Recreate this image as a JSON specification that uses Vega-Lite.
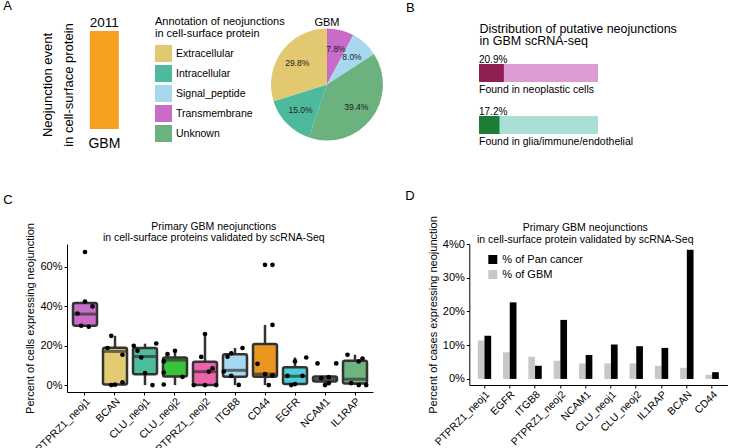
{
"$schema":"https://vega.github.io/schema/vega-lite/v6.json",
"padding":{"left":3,"top":0,"right":0,"bottom":0},
"config":{
 "font":"Liberation Sans",
 "view":{"stroke":null},
 "axis":{"domainColor":"#000","tickColor":"#000","labelColor":"#000","titleColor":"#000","grid":false,"titleFontWeight":"normal","labelFont":"Liberation Sans","titleFont":"Liberation Sans"},
 "legend":{"labelFont":"Liberation Sans","titleFont":"Liberation Sans","labelColor":"#000","titleColor":"#000","titleFontWeight":"normal"},
 "title":{"fontWeight":"normal","color":"#000","font":"Liberation Sans"},
 "text":{"font":"Liberation Sans"}
},
"datasets":{
 "boxes":[
  {"gene":"PTPRZ1_neoj1","lower":29.6,"q1":30.1,"median":36.0,"q3":41.6,"upper":42.4},
  {"gene":"BCAN","lower":0,"q1":0.3,"median":17.1,"q3":19.0,"upper":25.0},
  {"gene":"CLU_neoj1","lower":0,"q1":5.5,"median":14.5,"q3":18.8,"upper":21.0},
  {"gene":"CLU_neoj2","lower":0,"q1":4.4,"median":12.7,"q3":14.0,"upper":17.4},
  {"gene":"PTPRZ1_neoj2","lower":0,"q1":0,"median":6.8,"q3":11.8,"upper":25.9},
  {"gene":"ITGB8","lower":0,"q1":4.2,"median":7.5,"q3":15.7,"upper":18.8},
  {"gene":"CD44","lower":0,"q1":4.2,"median":5.6,"q3":20.8,"upper":30.5},
  {"gene":"EGFR","lower":0,"q1":0.5,"median":4.5,"q3":9.0,"upper":14.0},
  {"gene":"NCAM1","lower":0,"q1":1.8,"median":3.0,"q3":4.3,"upper":4.5},
  {"gene":"IL1RAP","lower":0,"q1":0.8,"median":3.0,"q3":12.3,"upper":15.4}
 ],
 "cells":[
  {"gene":"PTPRZ1_neoj1","sample":"4","pct":67.5},{"gene":"PTPRZ1_neoj1","sample":"4","pct":42.4},{"gene":"PTPRZ1_neoj1","sample":"6","pct":39.9},{"gene":"PTPRZ1_neoj1","sample":"2","pct":36.3},{"gene":"PTPRZ1_neoj1","sample":"3","pct":30.1},{"gene":"PTPRZ1_neoj1","sample":"5","pct":29.6},
  {"gene":"BCAN","sample":"3","pct":25.0},{"gene":"BCAN","sample":"2","pct":18.8},{"gene":"BCAN","sample":"6","pct":15.4},{"gene":"BCAN","sample":"6","pct":1.4},{"gene":"BCAN","sample":"4","pct":0.2},{"gene":"BCAN","sample":"3","pct":0.0},
  {"gene":"CLU_neoj1","sample":"7","pct":21.1},{"gene":"CLU_neoj1","sample":"1","pct":19.9},{"gene":"CLU_neoj1","sample":"2","pct":17.4},{"gene":"CLU_neoj1","sample":"3","pct":14.0},{"gene":"CLU_neoj1","sample":"4","pct":6.1},{"gene":"CLU_neoj1","sample":"6","pct":0.0},
  {"gene":"CLU_neoj2","sample":"4","pct":17.4},{"gene":"CLU_neoj2","sample":"2","pct":15.7},{"gene":"CLU_neoj2","sample":"1","pct":12.0},{"gene":"CLU_neoj2","sample":"1","pct":6.4},{"gene":"CLU_neoj2","sample":"6","pct":4.2},{"gene":"CLU_neoj2","sample":"1","pct":0.3},
  {"gene":"PTPRZ1_neoj2","sample":"4","pct":25.9},{"gene":"PTPRZ1_neoj2","sample":"3","pct":14.3},{"gene":"PTPRZ1_neoj2","sample":"6","pct":8.5},{"gene":"PTPRZ1_neoj2","sample":"5","pct":6.8},{"gene":"PTPRZ1_neoj2","sample":"1","pct":0.0},{"gene":"PTPRZ1_neoj2","sample":"4","pct":0.0},{"gene":"PTPRZ1_neoj2","sample":"7","pct":0.0},
  {"gene":"ITGB8","sample":"6","pct":18.8},{"gene":"ITGB8","sample":"3","pct":16.1},{"gene":"ITGB8","sample":"2","pct":14.4},{"gene":"ITGB8","sample":"1","pct":6.9},{"gene":"ITGB8","sample":"3","pct":4.7},{"gene":"ITGB8","sample":"5","pct":0.1},
  {"gene":"CD44","sample":"4","pct":61.0},{"gene":"CD44","sample":"6","pct":61.0},{"gene":"CD44","sample":"6","pct":30.5},{"gene":"CD44","sample":"2","pct":10.8},{"gene":"CD44","sample":"4","pct":5.6},{"gene":"CD44","sample":"6","pct":5.0},{"gene":"CD44","sample":"5","pct":0.0},
  {"gene":"EGFR","sample":"7","pct":14.0},{"gene":"EGFR","sample":"4","pct":12.0},{"gene":"EGFR","sample":"2","pct":4.7},{"gene":"EGFR","sample":"6","pct":4.7},{"gene":"EGFR","sample":"4","pct":0.5},{"gene":"EGFR","sample":"3","pct":0.0},
  {"gene":"NCAM1","sample":"2","pct":11.0},{"gene":"NCAM1","sample":"7","pct":11.0},{"gene":"NCAM1","sample":"3","pct":3.5},{"gene":"NCAM1","sample":"5","pct":4.0},{"gene":"NCAM1","sample":"5","pct":1.0},{"gene":"NCAM1","sample":"4","pct":0.0},
  {"gene":"IL1RAP","sample":"2","pct":15.4},{"gene":"IL1RAP","sample":"6","pct":13.5},{"gene":"IL1RAP","sample":"5","pct":12.0},{"gene":"IL1RAP","sample":"3","pct":1.0},{"gene":"IL1RAP","sample":"5","pct":0.0},{"gene":"IL1RAP","sample":"7","pct":0.0}
 ],
 "cases":[
  {"gene":"PTPRZ1_neoj1","series":"% of GBM","pct":11.4},{"gene":"PTPRZ1_neoj1","series":"% of Pan cancer","pct":12.8},
  {"gene":"EGFR","series":"% of GBM","pct":7.9},{"gene":"EGFR","series":"% of Pan cancer","pct":22.7},
  {"gene":"ITGB8","series":"% of GBM","pct":6.6},{"gene":"ITGB8","series":"% of Pan cancer","pct":3.9},
  {"gene":"PTPRZ1_neoj2","series":"% of GBM","pct":5.4},{"gene":"PTPRZ1_neoj2","series":"% of Pan cancer","pct":17.5},
  {"gene":"NCAM1","series":"% of GBM","pct":4.6},{"gene":"NCAM1","series":"% of Pan cancer","pct":7.1},
  {"gene":"CLU_neoj1","series":"% of GBM","pct":4.6},{"gene":"CLU_neoj1","series":"% of Pan cancer","pct":10.2},
  {"gene":"CLU_neoj2","series":"% of GBM","pct":4.6},{"gene":"CLU_neoj2","series":"% of Pan cancer","pct":9.7},
  {"gene":"IL1RAP","series":"% of GBM","pct":3.9},{"gene":"IL1RAP","series":"% of Pan cancer","pct":9.2},
  {"gene":"BCAN","series":"% of GBM","pct":3.3},{"gene":"BCAN","series":"% of Pan cancer","pct":38.3},
  {"gene":"CD44","series":"% of GBM","pct":1.2},{"gene":"CD44","series":"% of Pan cancer","pct":2.0}
 ]
},
"spacing":39,
"bounds":"full",
"align":"none",
"resolve":{"scale":{"color":"independent","fill":"independent"},"legend":{"color":"independent","fill":"independent"}},
"vconcat":[
 {
  "spacing":96,
  "bounds":"flush",
  "align":"none",
  "resolve":{"scale":{"color":"independent","fill":"independent"},"legend":{"color":"independent","fill":"independent"}},
  "hconcat":[
   {
    "title":{"text":"A","anchor":"start","frame":"group","fontSize":13,"baseline":"alphabetic","offset":0,"dx":-63.7,"dy":7.3},
    "width":107.3,"height":107,
    "data":{"values":[{"cancer":"GBM","events":2011}]},
    "encoding":{
     "x":{"field":"cancer","type":"nominal","scale":{"paddingInner":0,"paddingOuter":1.35,"align":0.272},"axis":{"title":null,"labelAngle":0,"ticks":false,"tickSize":0,"domain":false,"labelFontSize":14,"labelPadding":-2}},
     "y":{"field":"events","type":"quantitative","scale":{"domain":[-184.7,2011],"nice":false,"zero":false},"axis":{"title":["Neojunction event","in cell-surface protein"],"labels":false,"ticks":false,"domain":false,"titleFontSize":13,"titleLineHeight":21,"titlePadding":-8}}
    },
    "layer":[
     {"mark":{"type":"bar","color":"#F5A01E","size":29},"encoding":{"y2":{"datum":0}}},
     {"mark":{"type":"text","baseline":"alphabetic","dy":-4.3,"fontSize":13.5,"color":"#000"},"encoding":{"text":{"field":"events","type":"quantitative","format":"d"}}}
    ]
   },
   {
    "title":{"text":"GBM","frame":"group","fontSize":11,"offset":0,"dy":11.8},
    "width":112,"height":107,
    "data":{"values":[
     {"annotation":"Transmembrane","frac":0.078,"slice":1},
     {"annotation":"Signal_peptide","frac":0.080,"slice":2},
     {"annotation":"Unknown","frac":0.394,"slice":3},
     {"annotation":"Intracellular","frac":0.150,"slice":4},
     {"annotation":"Extracellular","frac":0.298,"slice":5}
    ]},
    "encoding":{
     "theta":{"field":"frac","type":"quantitative","stack":true},
     "order":{"field":"slice","type":"quantitative"}
    },
    "layer":[
     {"mark":{"type":"arc","outerRadius":56},
      "encoding":{"color":{"field":"annotation","type":"nominal",
        "scale":{"domain":["Extracellular","Intracellular","Signal_peptide","Transmembrane","Unknown"],"range":["#E2C871","#4DBA9E","#A8D8EF","#C96CC9","#6BB27F"]},
        "legend":{"orient":"none","legendX":-116,"legendY":-15,"title":["Annotation of neojunctions","in cell-surface protein"],"titleFontSize":11,"titleLineHeight":12,"titlePadding":6,"labelFontSize":10.5,"symbolType":"square","symbolSize":289,"symbolStrokeWidth":0,"symbolOpacity":1,"rowPadding":3,"labelOffset":4}}}},
     {"mark":{"type":"text","radius":37,"fontSize":8.5,"color":"#1a1a1a"},
      "encoding":{"detail":{"field":"annotation","type":"nominal"},"text":{"field":"frac","type":"quantitative","format":".1%"}}}
    ]
   },
   {
    "title":{"text":"B","anchor":"start","frame":"group","fontSize":13,"baseline":"alphabetic","offset":0,"dx":-73,"dy":3},
    "width":119,"height":107,
    "data":{"values":[{"group":"Found in neoplastic cells","frac":0.209},{"group":"Found in glia/immune/endothelial","frac":0.172}]},
    "encoding":{"y":{"field":"group","type":"nominal","sort":null,"scale":{"paddingInner":0.5,"paddingOuter":0.279,"align":1},"axis":null}},
    "layer":[
     {"mark":{"type":"bar","size":18},"encoding":{"x":{"datum":0,"type":"quantitative"},"x2":{"datum":1},"color":{"field":"group","type":"nominal","scale":{"domain":["Found in neoplastic cells","Found in glia/immune/endothelial"],"range":["#DC9BD5","#A9DFD5"]},"legend":null}}},
     {"mark":{"type":"bar","size":18},"encoding":{"x":{"field":"frac","type":"quantitative","scale":{"domain":[0,1],"nice":false},
        "axis":{"orient":"top","labels":false,"ticks":false,"domain":false,"grid":false,"title":["Distribution of putative neojunctions","in GBM scRNA-seq"],"titleFontSize":12.5,"titleLineHeight":12.5,"titleX":0,"titleY":1,"titleAlign":"left","titleBaseline":"alphabetic","titleAngle":0}},
       "fill":{"field":"group","type":"nominal","scale":{"domain":["Found in neoplastic cells","Found in glia/immune/endothelial"],"range":["#8E1F50","#1D7D36"]},"legend":null}}},
     {"mark":{"type":"text","align":"left","baseline":"alphabetic","dy":-10,"fontSize":10,"color":"#000"},"encoding":{"x":{"datum":0},"text":{"field":"frac","type":"quantitative","format":".1%"}}},
     {"mark":{"type":"text","align":"left","baseline":"alphabetic","dy":20,"fontSize":10.5,"color":"#000"},"encoding":{"x":{"datum":0},"text":{"field":"group","type":"nominal"}}}
    ]
   }
  ]
 },
 {
  "title":{"text":"D","anchor":"start","frame":"group","fontSize":13,"baseline":"alphabetic","offset":0,"dx":338.3,"dy":18.4},
  "spacing":96.3,
  "bounds":"flush",
  "align":"none",
  "resolve":{"scale":{"color":"independent","fill":"independent"},"legend":{"color":"independent","fill":"independent"}},
  "hconcat":[
   {
    "title":{"text":"C","anchor":"start","frame":"group","fontSize":13,"baseline":"alphabetic","offset":0,"dx":-63.7,"dy":-3.7},
    "width":306,"height":148,
    "layer":[
     {"data":{"name":"boxes"},"mark":{"type":"rule","color":"#333333","strokeWidth":2.5},
      "encoding":{
       "x":{"field":"gene","type":"nominal","sort":["PTPRZ1_neoj1","BCAN","CLU_neoj1","CLU_neoj2","PTPRZ1_neoj2","ITGB8","CD44","EGFR","NCAM1","IL1RAP"],"scale":{"paddingInner":0,"paddingOuter":0.1},"axis":{"title":null,"labelAngle":-45,"labelAlign":"right","labelBaseline":"top","labelFontSize":10.5,"tickSize":3,"labelPadding":1}},
       "y":{"field":"lower","type":"quantitative","scale":{"domain":[-3.5,71.55],"nice":false},"axis":{"title":"Percent of cells expressing neojunction","values":[0,20,40,60],"labelExpr":"datum.value + '%'","labelFontSize":11,"titleFontSize":11,"tickSize":3,"labelPadding":2,"titlePadding":4}},"y2":{"field":"upper"}}},
     {"data":{"name":"boxes"},"mark":{"type":"bar","size":24,"stroke":"#333333","strokeWidth":2.5,"cornerRadius":2},
      "encoding":{
       "x":{"field":"gene","type":"nominal","sort":["PTPRZ1_neoj1","BCAN","CLU_neoj1","CLU_neoj2","PTPRZ1_neoj2","ITGB8","CD44","EGFR","NCAM1","IL1RAP"],"axis":null},
       "y":{"field":"q1","type":"quantitative","axis":{"title":"Percent of cells expressing neojunction"}},"y2":{"field":"q3"},
       "color":{"field":"gene","type":"nominal","scale":{"domain":["PTPRZ1_neoj1","BCAN","CLU_neoj1","CLU_neoj2","PTPRZ1_neoj2","ITGB8","CD44","EGFR","NCAM1","IL1RAP"],"range":["#C86DC8","#E3CB72","#4DBB9E","#3BC23B","#EE62AA","#A7D8F0","#E8961E","#4CCFD6","#8C8C8C","#6DB47F"]},"legend":null}}},
     {"data":{"name":"boxes"},"mark":{"type":"tick","color":"#333333","thickness":3,"size":24},
      "encoding":{
       "x":{"field":"gene","type":"nominal","sort":["PTPRZ1_neoj1","BCAN","CLU_neoj1","CLU_neoj2","PTPRZ1_neoj2","ITGB8","CD44","EGFR","NCAM1","IL1RAP"],"axis":null},
       "y":{"field":"median","type":"quantitative","axis":{"title":"Percent of cells expressing neojunction"}}}},
     {"data":{"name":"cells"},"mark":{"type":"circle","size":22,"color":"#000","opacity":1},
      "encoding":{
       "x":{"field":"gene","type":"nominal","sort":["PTPRZ1_neoj1","BCAN","CLU_neoj1","CLU_neoj2","PTPRZ1_neoj2","ITGB8","CD44","EGFR","NCAM1","IL1RAP"],
        "axis":{"orient":"top","labels":false,"ticks":false,"domain":false,"title":["Primary GBM neojunctions","in cell-surface proteins validated by scRNA-Seq"],"titleFontSize":10.5,"titleLineHeight":11.7,"titleX":146.3,"titleY":-15,"titleAlign":"center","titleBaseline":"alphabetic","titleAngle":0}},
       "y":{"field":"pct","type":"quantitative","axis":{"title":"Percent of cells expressing neojunction"}},
       "xOffset":{"field":"sample","type":"nominal","scale":{"type":"point","padding":4.5,"domain":["1","2","3","4","5","6","7"]}}}}
    ],
    "resolve":{"axis":{"x":"independent"}}
   },
   {
    "title":{"text":["Primary GBM neojunctions","in cell-surface protein validated by scRNA-Seq"],"frame":"group","fontSize":10.5,"lineHeight":12.5,"baseline":"alphabetic","offset":0,"dx":-13,"dy":38.2},
    "width":258,"height":141,
    "data":{"name":"cases"},
    "encoding":{
     "x":{"field":"gene","type":"nominal","sort":["PTPRZ1_neoj1","EGFR","ITGB8","PTPRZ1_neoj2","NCAM1","CLU_neoj1","CLU_neoj2","IL1RAP","BCAN","CD44"],"scale":{"paddingInner":0.47,"paddingOuter":0.335},"axis":{"title":null,"labelAngle":-45,"labelAlign":"right","labelBaseline":"top","labelFontSize":10.5,"tickSize":3,"labelPadding":1}},
     "y":{"field":"pct","type":"quantitative","stack":null,"scale":{"domain":[-1.8,40],"nice":false},"axis":{"title":"Percent of cases expressing neojunction","values":[0,10,20,30,40],"labelExpr":"datum.value == 40 ? '4%0' : datum.value + '%'","labelFontSize":11,"titleFontSize":11,"tickSize":3,"labelPadding":2,"titlePadding":4}},
     "color":{"field":"series","type":"nominal","scale":{"domain":["% of Pan cancer","% of GBM"],"range":["#000000","#C8C8C8"]},"legend":{"orient":"none","legendX":18,"legendY":10,"title":null,"symbolType":"square","symbolSize":81,"symbolStrokeWidth":0,"symbolOpacity":1,"labelFontSize":11,"rowPadding":3,"labelOffset":4}}
    },
    "layer":[
     {"transform":[{"filter":"datum.series == '% of GBM'"}],"mark":{"type":"bar","size":6.7,"xOffset":-3.35}},
     {"transform":[{"filter":"datum.series == '% of Pan cancer'"}],"mark":{"type":"bar","size":6.7,"xOffset":3.35}}
    ]
   }
  ]
 }
]
}
